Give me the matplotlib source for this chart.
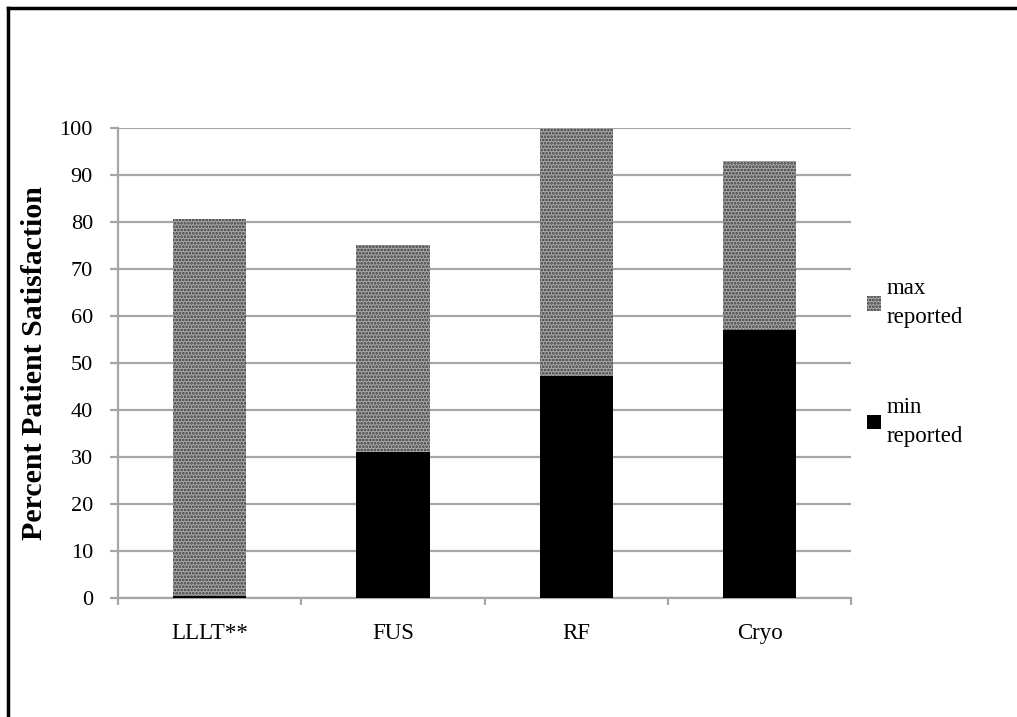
import numpy as np
import matplotlib
matplotlib.use("Agg")
import matplotlib.pyplot as plt
from matplotlib.lines import Line2D

categories = ['LLLT**', 'FUS', 'RF', 'Cryo']
max_reported = [80.5, 75, 100, 93]
min_reported = [0.5, 31, 47.3, 57]
y_ticks = [0, 10, 20, 30, 40, 50, 60, 70, 80, 90, 100]

plt.rcParams['font.family'] = ['Liberation Serif', 'DejaVu Serif']
plt.rcParams['hatch.linewidth'] = 1.3

fig = plt.figure(figsize=(10.17, 7.17), dpi=100)
ax = fig.add_axes([0.116, 0.166, 0.721, 0.656])

x = np.arange(len(categories))
grid = '#a6a6a6'

ax.bar(x, max_reported, width=0.4, color='#a8a8a8', edgecolor='#3a3a3a',
       hatch='.....', linewidth=0, label='max\nreported', zorder=2)
ax.bar(x, min_reported, width=0.4, color='black', linewidth=0,
       label='min\nreported', zorder=3)

ax.set_xlim(-0.5, len(categories) - 0.5)
ax.set_ylim(0, 100)
ax.set_yticks(y_ticks)
ax.yaxis.grid(True, color=grid, linewidth=1.6, zorder=0)
ax.set_axisbelow(True)

ax.set_xticks(x)
ax.set_xticklabels(categories, fontsize=16.5)
ax.set_xticks(np.arange(len(categories) + 1) - 0.5, minor=True)
ax.tick_params(axis='x', which='major', length=0, pad=18)
ax.tick_params(axis='x', which='minor', length=5, width=1.6, color=grid, direction='out')
ax.tick_params(axis='y', length=6, width=1.6, color=grid, labelsize=16, pad=12)

for s in ['top', 'right']:
    ax.spines[s].set_visible(False)
for s in ['left', 'bottom']:
    ax.spines[s].set_color(grid)
    ax.spines[s].set_linewidth(1.6)

ax.set_ylabel('Percent Patient Satisfaction', fontsize=21.5, fontweight='bold', labelpad=8)

ax.legend(loc='center left', bbox_to_anchor=(1.0, 0.5), frameon=False, fontsize=16.5,
          handlelength=0.6, handleheight=0.6, handletextpad=0.25, labelspacing=3.0,
          borderaxespad=0.3)
for t in ax.get_legend().get_texts():
    t.set_linespacing(1.5)

# outer frame (left and top edges only)
fig.add_artist(Line2D([0.0075, 0.0075], [0, 0.989], color='black', linewidth=2.5))
fig.add_artist(Line2D([0.0075, 1.0], [0.989, 0.989], color='black', linewidth=2.5))

fig.savefig('out.png', dpi=100)
